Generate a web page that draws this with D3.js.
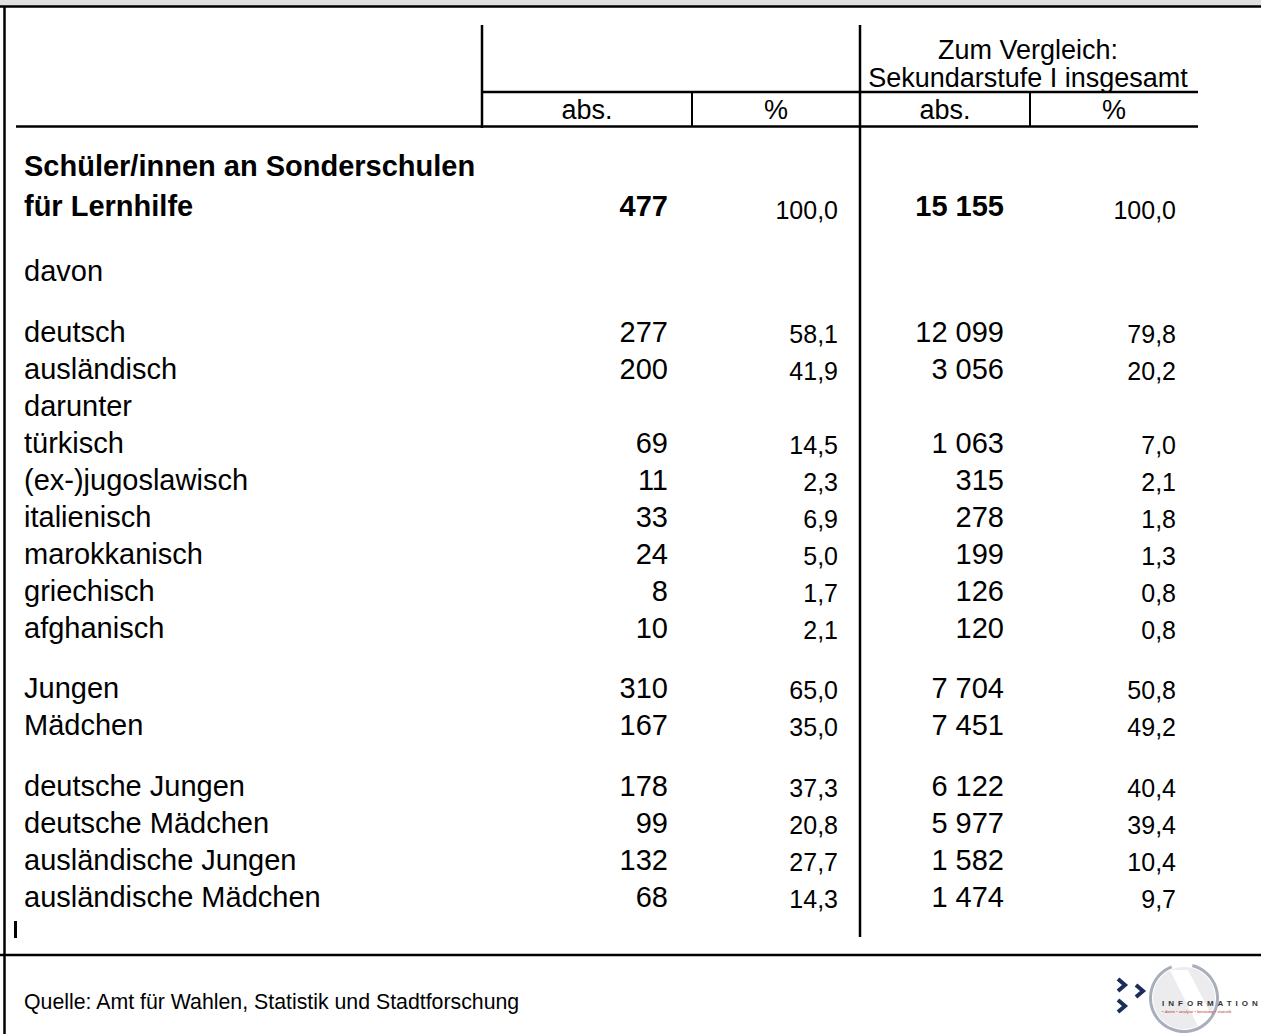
<!DOCTYPE html>
<html><head><meta charset="utf-8">
<script src="https://cdn.jsdelivr.net/npm/d3@7"></script>
<style>html,body{margin:0;padding:0;background:#fff;}svg{display:block;font-family:"Liberation Sans",Arial,sans-serif;}</style>
</head><body>
<script>
const titleLine = "Schüler/innen an Sonderschulen";
const rowLabels = ["für Lernhilfe","davon","deutsch","ausländisch","darunter","türkisch","(ex-)jugoslawisch","italienisch","marokkanisch","griechisch","afghanisch","Jungen","Mädchen","deutsche Jungen","deutsche Mädchen","ausländische Jungen","ausländische Mädchen"];
const absLernhilfe = [477,null,277,200,null,69,11,33,24,8,10,310,167,178,99,132,68];
const pctLernhilfe = [100.0,null,58.1,41.9,null,14.5,2.3,6.9,5.0,1.7,2.1,65.0,35.0,37.3,20.8,27.7,14.3];
const absSekI = [15155,null,12099,3056,null,1063,315,278,199,126,120,7704,7451,6122,5977,1582,1474];
const pctSekI = [100.0,null,79.8,20.2,null,7.0,2.1,1.8,1.3,0.8,0.8,50.8,49.2,40.4,39.4,10.4,9.7];
const groupIndex = [0,1,2,2,2,2,2,2,2,2,2,3,3,4,4,4,4];
const headerTop = ["Zum Vergleich:","Sekundarstufe I insgesamt"];
const colHeads = ["abs.","%","abs.","%"];
const source = "Quelle: Amt für Wahlen, Statistik und Stadtforschung";

const W = 1261, H = 1034;
const loc = d3.formatLocale({decimal:",", thousands:" ", grouping:[3], currency:["",""]});
const fAbs = loc.format(",d"), fPct = loc.format(".1f");

const svg = d3.select("body").append("svg").attr("width",W).attr("height",H);

// vertical layout: row slot + extra gap before each group
const yRow = d3.scaleLinear().domain([0,1]).range([216,253]);
const groupGap = [0,28,51.5,75,98.5];
const rowY = i => yRow(i) + groupGap[groupIndex[i]];

const cols = ["absL","pctL","absS","pctS"];
const colEdges = [482,692,860,1030,1198];
const xRight = d3.scaleOrdinal().domain(cols).range([668,838,1004,1176]);
const xHead = d3.scaleOrdinal().domain(cols).range(cols.map((c,i)=>(colEdges[i]+colEdges[i+1])/2));

// frame
svg.append("rect").attr("x",0).attr("y",0).attr("width",W).attr("height",6).attr("fill","#e0e0e0");
const line = (x1,y1,x2,y2,w)=>svg.append("line").attr("x1",x1).attr("y1",y1).attr("x2",x2).attr("y2",y2).attr("stroke","#000").attr("stroke-width",w||2);
line(0,6.5,W,6.5,2.5);
line(4.5,6,4.5,H,2.5);
line(482,25,482,128,2.5);
line(482,92,1198,92,2.5);
line(16,126.5,1198,126.5,2.5);
line(860,25,860,937,2.5);
line(692,92,692,126,2);
line(1030,92,1030,126,2);
line(0,955,W,955,2.5);
line(15.5,921,15.5,938,3);

// header texts
svg.selectAll("text.ht").data(headerTop).join("text").attr("class","ht")
  .attr("x",1028).attr("y",(d,i)=>[59,87][i]).attr("text-anchor","middle")
  .attr("font-size",27).text(d=>d);
svg.selectAll("text.ch").data(colHeads).join("text").attr("class","ch")
  .attr("x",(d,i)=>xHead(cols[i])).attr("y",119).attr("text-anchor","middle")
  .attr("font-size",27).text(d=>d);

// title
svg.append("text").attr("x",24).attr("y",rowY(0)-40).attr("font-size",29).attr("font-weight","bold").text(titleLine);

// labels
svg.selectAll("text.lab").data(rowLabels).join("text").attr("class","lab")
  .attr("x",24).attr("y",(d,i)=>rowY(i))
  .attr("font-size",29).attr("font-weight",(d,i)=>i===0?"bold":"normal").text(d=>d);

const series = [["absL",absLernhilfe,fAbs,29,0],["pctL",pctLernhilfe,fPct,25,1],["absS",absSekI,fAbs,29,0],["pctS",pctSekI,fPct,25,1]];
series.forEach(([key,vals,fmt,fs,dy])=>{
  svg.selectAll("text.v"+key).data(vals).join("text").attr("class","v"+key)
    .attr("x",xRight(key)).attr("y",(d,i)=>rowY(i)+dy+(i===0&&!key.startsWith("abs")?2:0)).attr("text-anchor","end")
    .attr("font-size",fs)
    .attr("font-weight",(d,i)=>i===0 && key.startsWith("abs")?"bold":"normal")
    .text(d=>d==null?"":fmt(d));
});

// footer
svg.append("text").attr("x",24).attr("y",1009).attr("font-size",21.3).text(source);

// logo
const lg = svg.append("g");
lg.append("circle").attr("cx",1184).attr("cy",998).attr("r",31).attr("fill","#ececef");
lg.append("path").attr("d","M1170,970 L1188,970 L1214,1020 L1198,1026 Z").attr("fill","#ffffff");
lg.append("path").attr("d",d3.arc()({innerRadius:32,outerRadius:35,startAngle:Math.PI*0.08,endAngle:Math.PI*1.88})).attr("transform","translate(1184,998)").attr("fill","#a9aebb");
lg.append("path").attr("d","M1118,979 l7,6 l-7,6").attr("fill","none").attr("stroke","#1c2d5c").attr("stroke-width",4);
lg.append("path").attr("d","M1136,985 l7,6 l-7,6").attr("fill","none").attr("stroke","#1c2d5c").attr("stroke-width",4);
lg.append("path").attr("d","M1118,1000 l7,6 l-7,6").attr("fill","none").attr("stroke","#1c2d5c").attr("stroke-width",4);
lg.append("text").attr("x",1162).attr("y",1006).attr("font-size",8).attr("font-weight","bold").attr("letter-spacing",4).attr("fill","#333").text("INFORMATION");
lg.append("text").attr("x",1162).attr("y",1013).attr("font-size",4.2).attr("fill","#c0392b").text("• daten • analyse • beratung • statistik");
</script>
</body></html>
